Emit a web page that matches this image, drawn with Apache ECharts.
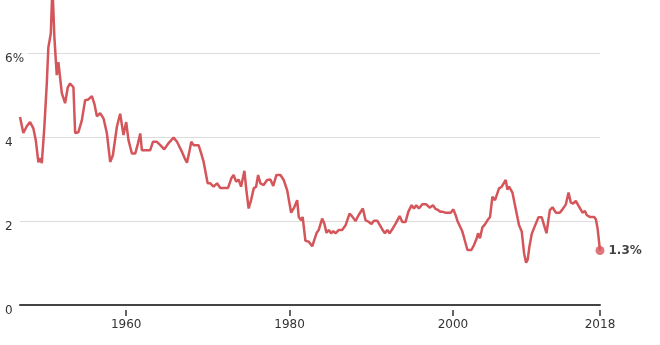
<!DOCTYPE html>
<html>
<head>
<meta charset="utf-8">
<script src="https://cdn.jsdelivr.net/npm/echarts@6/dist/echarts.min.js"></script>
<style>
  html, body { margin: 0; padding: 0; background: #fff; }
  #chart { width: 660px; height: 345px; }
</style>
</head>
<body>
<div id="chart"></div>
<script>
// years (decimal) and values
var years = [
    1947.0, 1947.41, 1947.83, 1948.23, 1948.64, 1948.93, 1949.25, 1949.46, 1949.67, 1949.98,
    1950.28, 1950.47, 1950.77, 1950.97, 1951.21, 1951.5, 1951.7, 1952.12, 1952.52, 1952.85,
    1953.13, 1953.54, 1953.75, 1954.15, 1954.57, 1954.97, 1955.38, 1955.8, 1956.11, 1956.41,
    1956.81, 1957.22, 1957.63, 1958.04, 1958.37, 1958.86, 1959.26, 1959.67, 1960.0, 1960.28,
    1960.7, 1961.1, 1961.39, 1961.72, 1961.92, 1962.54, 1962.94, 1963.27, 1963.76, 1964.17,
    1964.66, 1965.19, 1965.8, 1966.22, 1966.83, 1967.23, 1967.44, 1967.72, 1967.97, 1968.25,
    1968.86, 1969.19, 1969.48, 1969.68, 1969.97, 1970.3, 1970.7, 1971.12, 1971.52, 1971.93,
    1972.47, 1972.87, 1973.15, 1973.45, 1973.77, 1974.06, 1974.47, 1974.71, 1974.99, 1975.29,
    1975.61, 1975.9, 1976.15, 1976.43, 1976.83, 1977.25, 1977.65, 1978.0, 1978.39, 1978.88,
    1979.28, 1979.7, 1979.9, 1980.19, 1980.6, 1980.93, 1981.12, 1981.42, 1981.6, 1981.94,
    1982.35, 1982.77, 1982.96, 1983.29, 1983.57, 1983.78, 1983.99, 1984.27, 1984.52, 1984.8,
    1985.09, 1985.34, 1985.62, 1986.03, 1986.44, 1986.85, 1987.34, 1987.71, 1988.07, 1988.44,
    1988.97, 1989.3, 1989.7, 1990.03, 1990.32, 1990.73, 1991.35, 1991.67, 1991.96, 1992.24,
    1992.65, 1992.98, 1993.19, 1993.47, 1993.8, 1994.2, 1994.53, 1994.94, 1995.22, 1995.51,
    1995.83, 1996.25, 1996.74, 1997.14, 1997.55, 1997.88, 1998.21, 1998.49, 1998.78, 1999.11,
    1999.72, 2000.05, 2000.33, 2000.54, 2000.74, 2001.15, 2001.44, 2001.77, 2002.26, 2002.58,
    2002.91, 2003.07, 2003.31, 2003.6, 2003.92, 2004.22, 2004.54, 2004.83, 2005.15, 2005.64,
    2005.97, 2006.46, 2006.67, 2006.87, 2007.28, 2007.69, 2008.09, 2008.42, 2008.71, 2008.95,
    2009.15, 2009.35, 2009.65, 2009.96, 2010.47, 2010.87, 2011.16, 2011.45, 2011.86, 2012.19,
    2012.59, 2013.08, 2013.41, 2013.82, 2014.15, 2014.43, 2014.71, 2015.04, 2015.33, 2015.57,
    2015.86, 2016.15, 2016.39, 2016.76, 2017.29, 2017.5, 2017.7, 2018.0
];
var values = [
    4.48, 4.10, 4.26, 4.36, 4.21, 3.93, 3.40, 3.50, 3.38, 4.24,
    5.28, 6.14, 6.47, 7.60, 6.38, 5.48, 5.79, 5.05, 4.81, 5.19,
    5.28, 5.19, 4.10, 4.12, 4.40, 4.88, 4.90, 4.98, 4.79, 4.50,
    4.57, 4.45, 4.10, 3.41, 3.57, 4.25, 4.56, 4.05, 4.36, 3.93,
    3.61, 3.61, 3.81, 4.09, 3.69, 3.69, 3.69, 3.89, 3.89, 3.81,
    3.71, 3.86, 3.99, 3.89, 3.65, 3.47, 3.39, 3.65, 3.89, 3.81,
    3.81, 3.61, 3.41, 3.37, 2.90, 2.90, 2.82, 2.90, 2.79, 2.79,
    2.79, 3.02, 3.10, 2.94, 2.99, 2.82, 3.20, 2.74, 2.30, 2.50,
    2.78, 2.82, 3.10, 2.90, 2.86, 2.98, 2.99, 2.84, 3.10, 3.10,
    2.98, 2.74, 2.78, 2.20, 2.34, 2.50, 2.10, 2.02, 2.10, 1.53,
    1.51, 1.40, 1.39, 1.71, 1.79, 1.79, 2.06, 1.93, 1.72, 1.79,
    1.71, 1.76, 1.71, 1.79, 1.79, 1.90, 2.18, 2.10, 2.00, 2.14,
    2.30, 2.02, 1.98, 1.93, 2.01, 2.01, 1.80, 1.71, 1.79, 1.71,
    1.83, 1.94, 1.90, 2.12, 1.98, 1.98, 2.22, 2.38, 2.30, 2.38,
    2.30, 2.40, 2.40, 2.32, 2.38, 2.29, 2.26, 2.22, 2.22, 2.20,
    2.20, 2.28, 2.14, 2.01, 1.98, 1.75, 1.55, 1.31, 1.31, 1.43,
    1.59, 1.71, 1.59, 1.85, 1.92, 2.02, 2.10, 2.58, 2.50, 2.78,
    2.82, 2.98, 2.75, 2.82, 2.68, 2.28, 1.90, 1.75, 1.23, 1.01,
    1.08, 1.38, 1.70, 1.85, 2.09, 2.09, 1.90, 1.71, 2.26, 2.33,
    2.20, 2.20, 2.28, 2.40, 2.68, 2.44, 2.42, 2.48, 2.38, 2.42,
    2.20, 2.24, 2.14, 2.10, 2.10, 2.04, 1.83, 1.30
];
var xTicks = [1960, 1980, 2000, 2018];
var yTicks = [0, 2, 4, 6];
var lastLabel = '1.3%';

var lineColor = '#d4555a';
var fontFamily = 'DejaVu Sans';

var points = years.map(function (y, i) {
    return [y, values[i]];
});
var lastPoint = points[points.length - 1];

var myChart = echarts.init(document.getElementById('chart'));
var option = {
    animation: false,
    grid: {
        left: 20,
        right: 60,
        top: 0,
        bottom: 40
    },
    xAxis: [
        {
            type: 'value',
            min: 1947,
            max: 2018,
            axisLine: { show: true, lineStyle: { color: '#444', width: 2 } },
            axisTick: { show: false },
            axisLabel: { show: false },
            splitLine: { show: false }
        },
        {
            type: 'value',
            position: 'bottom',
            offset: 5,
            min: 1947,
            max: 2018,
            axisLine: { show: false },
            axisTick: {
                show: true,
                length: 6,
                customValues: xTicks,
                lineStyle: { color: '#333', width: 1.5 }
            },
            axisLabel: {
                customValues: xTicks,
                margin: 9,
                color: '#333',
                fontSize: 12,
                fontFamily: fontFamily,
                formatter: function (v) { return String(v); }
            },
            splitLine: { show: false }
        }
    ],
    yAxis: {
        type: 'value',
        min: 0,
        max: 305 / 41.95,
        interval: 2,
        axisLine: { show: false },
        axisTick: { show: false },
        splitLine: {
            showMaxLine: false,
            lineStyle: { color: '#dcdcdc', width: 1 }
        },
        axisLabel: {
            showMaxLabel: false,
            align: 'left',
            verticalAlign: 'top',
            margin: 15,
            color: '#333',
            fontSize: 12,
            fontFamily: fontFamily,
            backgroundColor: '#fff',
            padding: [0, 4, 0, 0],
            formatter: function (v) {
                if (yTicks.indexOf(v) < 0) return '';
                return v === 6 ? v + '%' : String(v);
            }
        }
    },
    series: [
        {
            type: 'line',
            data: points,
            showSymbol: false,
            clip: true,
            lineStyle: { color: lineColor, width: 2.5 },
            z: 3
        },
        {
            type: 'scatter',
            data: [lastPoint],
            symbolSize: 9,
            itemStyle: { color: lineColor },
            label: {
                show: true,
                position: 'right',
                distance: 4,
                formatter: lastLabel,
                color: '#111',
                fontSize: 12,
                fontWeight: 'bold',
                fontFamily: fontFamily
            },
            z: 4
        }
    ]
};
myChart.setOption(option);
</script>
</body>
</html>
